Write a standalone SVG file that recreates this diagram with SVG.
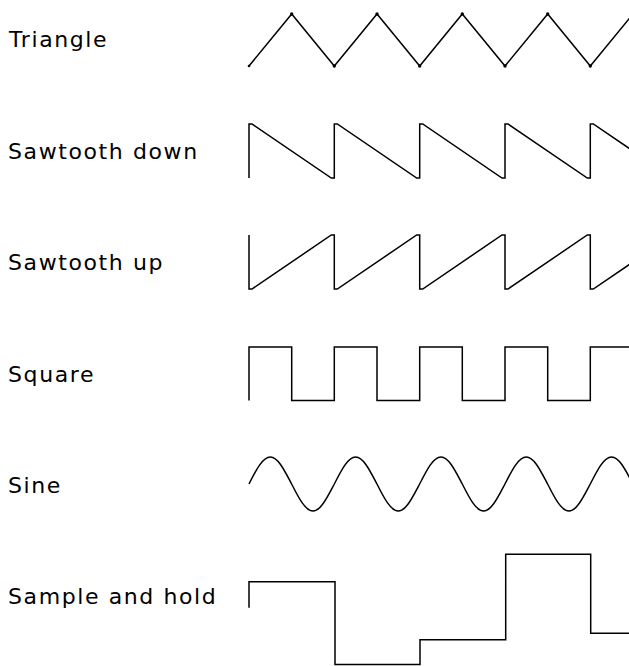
<svg xmlns="http://www.w3.org/2000/svg" width="629" height="666" viewBox="0 0 629 666">
<style>
.lbl{font-family:"DejaVu Sans","Liberation Sans",sans-serif;font-size:22px;letter-spacing:1.6px;fill:#000}
.wave{fill:none;stroke:#000;stroke-width:1.5;stroke-linejoin:miter;stroke-linecap:butt}
.dot{fill:#000}
</style>
<rect width="629" height="666" fill="#fff"/>
<g id="triangle">
<text class="lbl" x="9" y="47">Triangle</text>
<path class="wave" d="M249,66 L291.7,14 L334.3,66 L377,14 L419.7,66 L462.3,14 L505,66 L547.7,14 L590.3,66 L633,14"/>
<g class="dot">
<circle cx="249" cy="66" r="1.3"/>
<circle cx="291.7" cy="14" r="1.7"/><circle cx="334.3" cy="66" r="1.7"/>
<circle cx="377" cy="14" r="1.7"/><circle cx="419.7" cy="66" r="1.7"/>
<circle cx="462.3" cy="14" r="1.7"/><circle cx="505" cy="66" r="1.7"/>
<circle cx="547.7" cy="14" r="1.7"/><circle cx="590.3" cy="66" r="1.7"/>
</g>
</g>
<g id="sawtooth-down">
<text class="lbl" x="8" y="158.5">Sawtooth down</text>
<path class="wave" d="M249,178 V124 H252 L331.3,178 H334.3 V124 H337.3 L416.7,178 H419.7 V124 H422.7 L502,178 H505 V124 H508 L587.3,178 H590.3 V124 H593.3 L672.7,178"/>
</g>
<g id="sawtooth-up">
<text class="lbl" x="8" y="270">Sawtooth up</text>
<path class="wave" d="M249,235 V289 H252 L331.3,235 H334.3 V289 H337.3 L416.7,235 H419.7 V289 H422.7 L502,235 H505 V289 H508 L587.3,235 H590.3 V289 H593.3 L672.7,235"/>
</g>
<g id="square">
<text class="lbl" x="8" y="381.5">Square</text>
<path class="wave" d="M249,400.5 V347 H291.7 V400.5 H334.3 V347 H377 V400.5 H419.7 V347 H462.3 V400.5 H505 V347 H547.7 V400.5 H590.3 V347 H640"/>
</g>
<g id="sine">
<text class="lbl" x="8" y="493">Sine</text>
<path class="wave" d="M249,484 c6.96,-13.83 13.61,-27 21.33,-27 c7.72,0 14.37,13.830 21.33,27 c6.96,13.83 13.61,27 21.33,27 c7.72,0 14.37,-13.83 21.33,-27 c6.96,-13.83 13.61,-27 21.33,-27 c7.72,0 14.37,13.83 21.33,27 c6.96,13.83 13.61,27 21.33,27 c7.72,0 14.37,-13.83 21.33,-27 c6.96,-13.83 13.61,-27 21.33,-27 c7.72,0 14.37,13.83 21.33,27 c6.96,13.83 13.61,27 21.33,27 c7.72,0 14.37,-13.83 21.33,-27 c6.96,-13.83 13.61,-27 21.33,-27 c7.72,0 14.37,13.83 21.33,27 c6.96,13.83 13.61,27 21.33,27 c7.72,0 14.37,-13.83 21.33,-27 c6.96,-13.83 13.61,-27 21.33,-27 c7.72,0 14.37,13.83 21.33,27"/>
</g>
<g id="sample-and-hold">
<text class="lbl" x="8" y="604">Sample and hold</text>
<path class="wave" d="M249,607.7 V581.7 H335 V664.5 H420 V639.7 H505.7 V554.3 H590.7 V633.3 H640"/>
</g>
</svg>
